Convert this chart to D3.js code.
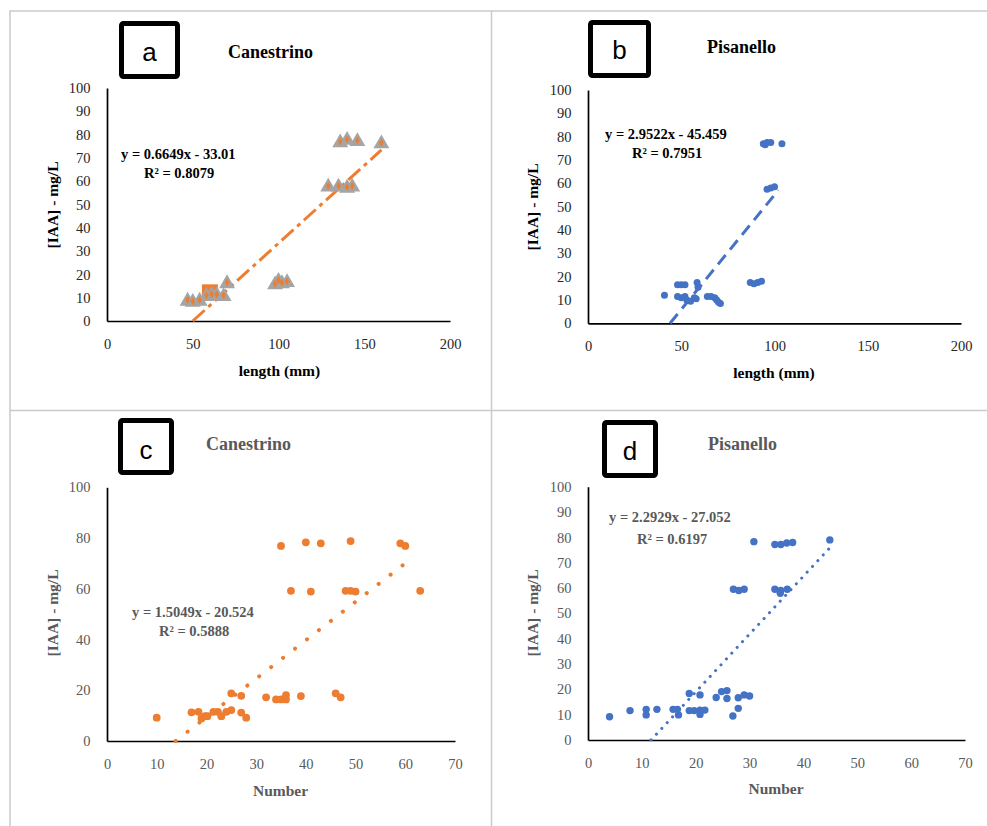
<!DOCTYPE html>
<html>
<head>
<meta charset="utf-8">
<script src="https://cdn.jsdelivr.net/npm/d3@7"></script>
<style>
  body { margin: 0; background: #fff; }
  text { font-family: "Liberation Serif", "Times New Roman", serif; }
</style>
</head>
<body>
<svg width="987" height="826"></svg>
<script>
// a - Canestrino, IAA vs length
const lenA = [47, 50, 54, 58, 61, 64, 68, 70, 98, 100, 102, 105, 129, 135, 140, 143, 136, 140, 146, 160];
const iaaA = [9, 8.5, 9, 11, 11.5, 11.5, 11, 16.5, 16, 17.5, 16.5, 17, 58, 58, 57.5, 58, 77, 78, 77.5, 76.5];
const squareLenA = [60];
const squareIaaA = [12.3];
const trendLenA = [50, 160];
const trendIaaA = [0, 73.4];

// b - Pisanello, IAA vs length
const lenB = [41, 48, 50, 52, 48, 50, 52, 53, 55, 57, 58, 58.5, 59, 64, 66, 68, 69, 70, 71, 87, 89, 91, 93, 94, 95, 96, 98, 104, 96, 98, 100];
const iaaB = [12, 16.5, 16.5, 16.5, 11.5, 11, 11.5, 10, 9.5, 11, 10.5, 17.5, 15.5, 11.5, 11.5, 11, 10, 9, 8.5, 17.5, 17, 17.5, 18, 77, 76.5, 77.5, 77.5, 77, 57.5, 58, 58.5];
const trendLenB = [44, 102];
const trendIaaB = [0, 57];

// c - Canestrino, IAA vs number
const numC = [10, 17, 18.4, 19, 19.7, 20.2, 21.4, 22.3, 23, 24, 25, 25, 27, 27, 28, 32, 34, 35, 36, 36, 39, 46, 47, 35, 37, 40, 41, 43, 48, 49, 49, 50, 59, 60, 63];
const iaaC = [9.2, 11.3, 11.5, 8.9, 9.8, 9.8, 11.5, 11.5, 9.8, 11.5, 12.2, 18.8, 17.8, 11.2, 9.2, 17.2, 16.4, 16.4, 18.1, 16.4, 17.7, 18.8, 17.2, 76.9, 59.2, 78.3, 58.9, 77.9, 59.2, 59.2, 78.8, 58.9, 77.9, 76.9, 59.2];
const trendNumC = [13.8, 61.8];
const trendIaaC = [0, 72.8];

// d - Pisanello, IAA vs number
const numD = [4, 7.8, 10.8, 10.8, 12.8, 15.8, 16.6, 16.8, 18.8, 18.8, 19.7, 20.8, 20.8, 20.8, 21.7, 23.8, 24.8, 25.8, 25.8, 26.9, 27.9, 27.9, 29, 30, 27, 28, 29, 30.8, 34.7, 35.8, 36.9, 38, 34.7, 35.8, 37, 35.7, 44.9];
const iaaD = [9.2, 11.6, 12.1, 9.9, 12.1, 12.1, 12.1, 9.9, 18.4, 11.6, 11.6, 17.8, 11.8, 10.1, 11.8, 16.8, 19.1, 19.5, 16.4, 9.5, 12.5, 16.7, 17.8, 17.4, 59.5, 59, 59.5, 78.3, 77.2, 77.2, 77.8, 78, 59.5, 59, 59.5, 57.9, 79];
const trendNumD = [11.7, 45];
const trendIaaD = [0, 76.1];

const lengthTicks = [0, 50, 100, 150, 200];
const numberTicks = [0, 10, 20, 30, 40, 50, 60, 70];
const iaaTicks10 = [0, 10, 20, 30, 40, 50, 60, 70, 80, 90, 100];
const iaaTicks20 = [0, 20, 40, 60, 80, 100];

const orange = "#ed7d31";
const blue = "#4472c4";

const svg = d3.select("svg");
const width = +svg.attr("width");
const height = +svg.attr("height");

svg.append("rect").attr("width", width).attr("height", height).attr("fill", "#fff");

// frames round the four panels
svg.append("path")
  .attr("d", `M10,${height}V11H${width}M491.5,11V${height}M10,410.5H${width}`)
  .attr("fill", "none")
  .attr("stroke", "#cacaca")
  .attr("stroke-width", 1.5);

function panel(p) {
  const x = d3.scaleLinear().domain([0, d3.max(p.xTicks)]).range([p.left, p.right]);
  const y = d3.scaleLinear().domain([0, 100]).range([p.bottom, p.top]);
  const g = svg.append("g");

  const xAxis = g.append("g")
    .attr("transform", `translate(0,${p.bottom})`)
    .call(d3.axisBottom(x).tickValues(p.xTicks).tickSize(0).tickSizeOuter(0).tickPadding(17.5));
  const yAxis = g.append("g")
    .attr("transform", `translate(${p.left},0)`)
    .call(d3.axisLeft(y).tickValues(p.yTicks).tickSize(0).tickSizeOuter(0).tickPadding(16.5));

  [xAxis, yAxis].forEach(a => {
    a.attr("font-family", null).attr("font-size", 14.5);
    a.select(".domain").attr("stroke", "#000").attr("stroke-width", 1.7);
    a.selectAll("text").attr("fill", p.tickColor);
  });

  // trendline
  const pts = d3.zip(p.trendX, p.trendY);
  g.append("path")
    .attr("d", d3.line().x(d => x(d[0])).y(d => y(d[1]))(pts))
    .attr("fill", "none")
    .attr("stroke", p.color)
    .attr("stroke-width", p.trendWidth)
    .attr("stroke-linecap", p.trendCap)
    .attr("stroke-dasharray", p.dash);

  p.marks(g, x, y);

  // letter box
  g.append("rect")
    .attr("x", p.box[0]).attr("y", p.box[1])
    .attr("width", p.box[2]).attr("height", p.box[3])
    .attr("rx", 2)
    .attr("fill", "#fff").attr("stroke", "#000").attr("stroke-width", 5);
  g.append("text")
    .attr("x", p.box[0] + p.box[2] / 2)
    .attr("y", p.letterY)
    .attr("text-anchor", "middle")
    .style("font-family", "'Liberation Sans', Arial, sans-serif")
    .style("font-size", "26px")
    .text(p.letter);

  g.append("text")
    .attr("x", p.title[0]).attr("y", p.title[1])
    .attr("fill", p.textColor)
    .style("font-weight", "bold").style("font-size", "18px")
    .text(p.titleText);

  g.append("text")
    .attr("x", p.eq[0]).attr("y", p.eq[1])
    .attr("fill", p.textColor)
    .style("font-weight", "bold").style("font-size", "14.5px")
    .text(p.eqText);
  g.append("text")
    .attr("x", p.r2[0]).attr("y", p.r2[1])
    .attr("fill", p.textColor)
    .style("font-weight", "bold").style("font-size", "14.5px")
    .text(p.r2Text);

  g.append("text")
    .attr("transform", `translate(${p.yLabel[0]},${p.yLabel[1]}) rotate(-90)`)
    .attr("text-anchor", "middle")
    .attr("fill", p.textColor)
    .style("font-weight", "bold").style("font-size", "15.5px")
    .text("[IAA] - mg/L");
  g.append("text")
    .attr("x", p.xLabel[0]).attr("y", p.xLabel[1])
    .attr("text-anchor", "middle")
    .attr("fill", p.textColor)
    .style("font-weight", "bold").style("font-size", "15.5px")
    .text(p.xLabelText);
}

function dots(xs, ys, color, r) {
  return (g, x, y) => {
    g.append("g")
      .selectAll("circle")
      .data(d3.zip(xs, ys))
      .join("circle")
      .attr("cx", d => x(d[0]))
      .attr("cy", d => y(d[1]))
      .attr("r", r)
      .attr("fill", color);
  };
}

panel({
  letter: "a", titleText: "Canestrino",
  xTicks: lengthTicks, yTicks: iaaTicks10,
  left: 107, right: 450, top: 88, bottom: 321,
  color: orange, trendX: trendLenA, trendY: trendIaaA,
  trendWidth: 3, trendCap: "butt", dash: "16,5,4,5",
  tickColor: "#262626", textColor: "#000",
  box: [121.5, 23.5, 56, 53], letterY: 61,
  title: [228, 58], eq: [121, 159], r2: [144, 178],
  eqText: "y = 0.6649x - 33.01", r2Text: "R² = 0.8079",
  yLabel: [58, 205], xLabel: [279.5, 376], xLabelText: "length (mm)",
  marks: (g, x, y) => {
    g.append("g")
      .selectAll("rect")
      .data(d3.zip(squareLenA, squareIaaA))
      .join("rect")
      .attr("x", d => x(d[0]) - 8)
      .attr("y", d => y(d[1]) - 8)
      .attr("width", 16).attr("height", 16)
      .attr("fill", orange);
    g.append("g")
      .selectAll("path")
      .data(d3.zip(lenA, iaaA))
      .join("path")
      .attr("transform", d => `translate(${x(d[0])},${y(d[1]) + 1})`)
      .attr("d", d3.symbol(d3.symbolTriangle, 110))
      .attr("fill", "#a5a5a5");
    g.append("g")
      .selectAll("path")
      .data(d3.zip(lenA, iaaA))
      .join("path")
      .attr("transform", d => `translate(${x(d[0])},${y(d[1])})`)
      .attr("d", d3.symbol(d3.symbolDiamond, 18))
      .attr("fill", orange);
  }
});

panel({
  letter: "b", titleText: "Pisanello",
  xTicks: lengthTicks, yTicks: iaaTicks10,
  left: 588, right: 961, top: 90, bottom: 323.3,
  color: blue, trendX: trendLenB, trendY: trendIaaB,
  trendWidth: 3, trendCap: "butt", dash: "12,7",
  tickColor: "#262626", textColor: "#000",
  box: [590.5, 22.5, 58, 53], letterY: 58.5,
  title: [707, 53], eq: [605, 138.5], r2: [632, 157.5],
  eqText: "y = 2.9522x - 45.459", r2Text: "R² = 0.7951",
  yLabel: [538, 207], xLabel: [774, 378], xLabelText: "length (mm)",
  marks: dots(lenB, iaaB, blue, 3.5)
});

panel({
  letter: "c", titleText: "Canestrino",
  xTicks: numberTicks, yTicks: iaaTicks20,
  left: 107, right: 455, top: 487.3, bottom: 741,
  color: orange, trendX: trendNumC, trendY: trendIaaC,
  trendWidth: 4, trendCap: "round", dash: "0.1,15",
  tickColor: "#595959", textColor: "#595959",
  box: [120.5, 420.5, 51, 52], letterY: 458.5,
  title: [206, 450], eq: [132, 617], r2: [159, 636],
  eqText: "y = 1.5049x - 20.524", r2Text: "R² = 0.5888",
  yLabel: [58, 613], xLabel: [280.5, 796], xLabelText: "Number",
  marks: dots(numC, iaaC, orange, 3.9)
});

panel({
  letter: "d", titleText: "Pisanello",
  xTicks: numberTicks, yTicks: iaaTicks10,
  left: 588, right: 965, top: 486.7, bottom: 740,
  color: blue, trendX: trendNumD, trendY: trendIaaD,
  trendWidth: 3, trendCap: "round", dash: "0.1,7.8",
  tickColor: "#595959", textColor: "#595959",
  box: [604.5, 422.5, 51, 53], letterY: 459.5,
  title: [708, 450], eq: [609, 522], r2: [637, 544],
  eqText: "y = 2.2929x - 27.052", r2Text: "R² = 0.6197",
  yLabel: [538, 613], xLabel: [776, 794], xLabelText: "Number",
  marks: dots(numD, iaaD, blue, 3.7)
});
</script>
</body>
</html>
